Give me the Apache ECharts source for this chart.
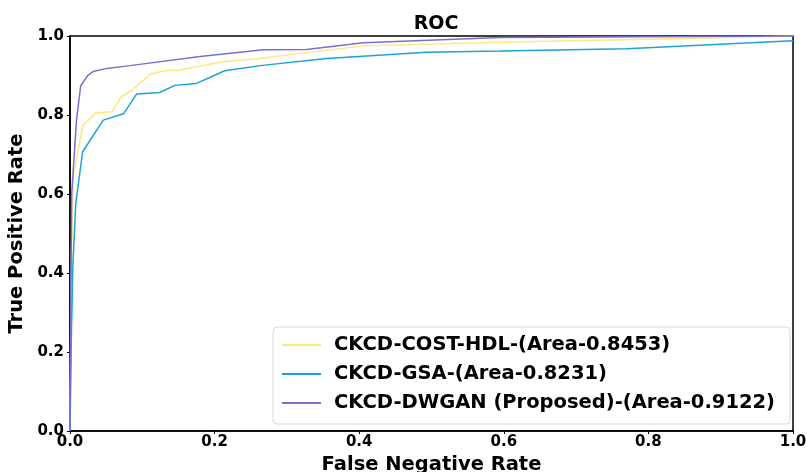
<!DOCTYPE html>
<html>
<head>
<meta charset="utf-8">
<script src="https://cdn.jsdelivr.net/npm/echarts@6/dist/echarts.min.js"></script>
<style>
  html, body { margin: 0; padding: 0; background: #fff; }
  #chart { width: 807px; height: 472px; }
</style>
</head>
<body>
<div id="chart"></div>
<script>
// ROC curves, points are [false rate, true positive rate]
var costHdl = [
    [0, 0], [0.002, 0.45], [0.0046, 0.644], [0.0175, 0.772], [0.036, 0.806], [0.058, 0.808],
    [0.0705, 0.846], [0.085, 0.862], [0.112, 0.904], [0.131, 0.912], [0.152, 0.914],
    [0.18, 0.924], [0.212, 0.935], [0.263, 0.943], [0.318, 0.956], [0.406, 0.975],
    [0.595, 0.984], [0.8, 0.992], [1, 1]
];
var gsa = [
    [0, 0], [0.002, 0.25], [0.004, 0.42], [0.008, 0.577], [0.0175, 0.707], [0.046, 0.787],
    [0.074, 0.803], [0.092, 0.853], [0.124, 0.857], [0.145, 0.875], [0.175, 0.880],
    [0.214, 0.912], [0.263, 0.925], [0.355, 0.943], [0.493, 0.959], [0.595, 0.962],
    [0.77, 0.968], [1, 0.988]
];
var dwgan = [
    [0, 0], [0.001, 0.3], [0.0023, 0.6], [0.009, 0.787], [0.0148, 0.874], [0.025, 0.901],
    [0.032, 0.91], [0.051, 0.918], [0.083, 0.925], [0.18, 0.948], [0.267, 0.965],
    [0.327, 0.966], [0.406, 0.983], [0.595, 0.996], [1, 1]
];
var names = ['CKCD-COST-HDL-(Area-0.8453)', 'CKCD-GSA-(Area-0.8231)', 'CKCD-DWGAN (Proposed)-(Area-0.9122)'];
var colors = ['#ffe680', '#1ba3d6', '#7b70d0'];

var chart = echarts.init(document.getElementById('chart'));
var tickFont = { fontFamily: 'DejaVu Sans', fontWeight: 'bold', fontSize: 15, color: '#000' };
var nameFont = { fontFamily: 'DejaVu Sans', fontWeight: 'bold', fontSize: 19.5, color: '#000' };

var option = {
    backgroundColor: '#fff',
    animation: false,
    title: {
        text: 'ROC',
        left: 431,
        top: 10,
        textAlign: 'center',
        textStyle: { fontFamily: 'DejaVu Sans', fontWeight: 'bold', fontSize: 19, color: '#000' }
    },
    grid: {
        left: 70, right: 14, top: 36, bottom: 41,
        outerBoundsMode: 'none',
        containLabel: false,
        show: true, borderColor: '#000', borderWidth: 1.5
    },
    legend: {
        orient: 'vertical',
        left: 273, top: 327,
        padding: [8, 15, 11, 8],
        itemGap: 9,
        itemWidth: 39,
        itemHeight: 2,
        backgroundColor: '#fff',
        borderColor: '#d9d9d9',
        borderWidth: 1,
        borderRadius: 4,
        textStyle: { fontFamily: 'DejaVu Sans', fontWeight: 'bold', fontSize: 19.5, color: '#000', padding: [0, 0, 0, 8] },
        data: names
    },
    xAxis: {
        type: 'value', min: 0, max: 1, interval: 0.2,
        name: 'False Negative Rate', nameLocation: 'middle', nameGap: 19,
        nameTextStyle: nameFont,
        axisLine: { lineStyle: { color: '#000', width: 1.5 } },
        axisTick: { show: true, length: 3, lineStyle: { color: '#000' } },
        axisLabel: Object.assign({ margin: 4, formatter: function (v) { return v.toFixed(1); } }, tickFont),
        splitLine: { show: false }
    },
    yAxis: {
        type: 'value', min: 0, max: 1, interval: 0.2,
        name: 'True Positive Rate', nameLocation: 'middle', nameGap: 38,
        nameTextStyle: nameFont,
        axisLine: { show: true, lineStyle: { color: '#000', width: 1.5 } },
        axisTick: { show: true, length: 3, lineStyle: { color: '#000' } },
        axisLabel: Object.assign({ margin: 6, formatter: function (v) { return v.toFixed(1); } }, tickFont),
        splitLine: { show: false }
    },
    series: [costHdl, gsa, dwgan].map(function (d, i) {
        return {
            name: names[i],
            type: 'line',
            data: d,
            symbol: 'none',
            color: colors[i],
            lineStyle: { width: 1.5, color: colors[i] }
        };
    })
};
chart.setOption(option);
</script>
</body>
</html>
